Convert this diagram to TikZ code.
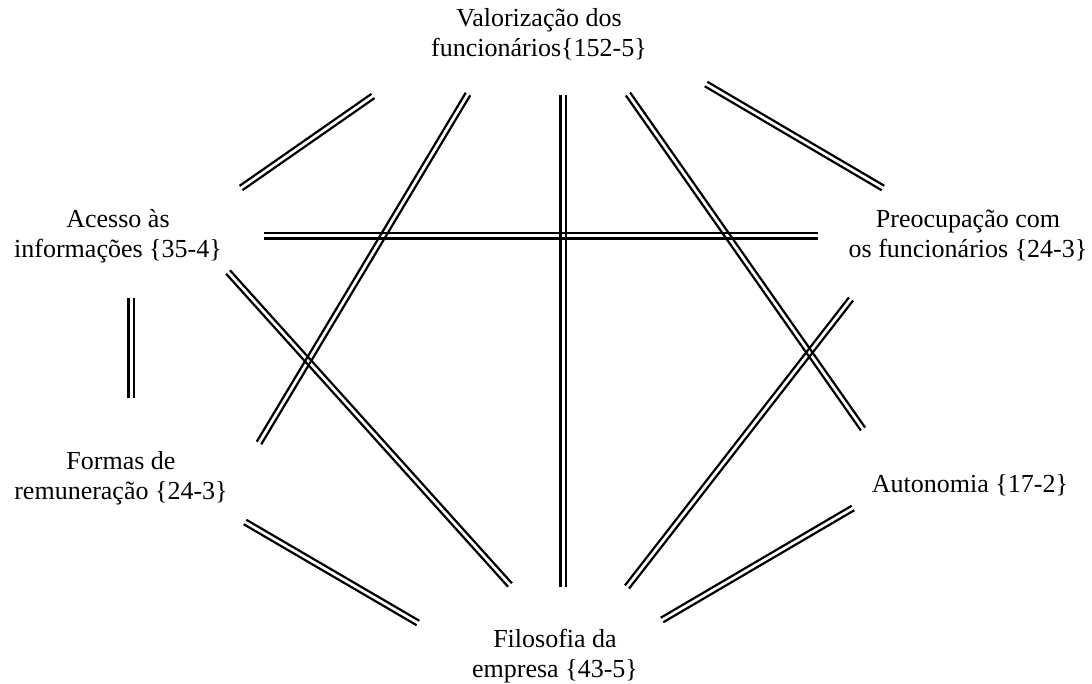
\documentclass[tikz,border=0pt]{standalone}
\usepackage{fontspec}
\setmainfont{Liberation Serif}
\usetikzlibrary{calc}
\tikzset{
  lbl/.style={font=\fontsize{26}{30}\selectfont, align=center, inner sep=0pt, anchor=center},
  rail/.style={line width=2.2pt, line cap=butt, black}
}
\newcommand{\dbl}[2]{%
  \draw[rail] ($(#1)!2.6pt!90:(#2)$) -- ($(#2)!2.6pt!-90:(#1)$);
  \draw[rail] ($(#1)!2.6pt!-90:(#2)$) -- ($(#2)!2.6pt!90:(#1)$);}
\begin{document}
\begin{tikzpicture}[x=1pt,y=-1pt]
\useasboundingbox (0,0) rectangle (1092,684);
% labels
\node[lbl] (val) at (539,34) {Valorização dos\\funcionários\{152-5\}};
\node[lbl] (ace) at (118,236) {Acesso às\\informações \{35-4\}};
\node[lbl] (pre) at (968,235) {Preocupação com\\os funcionários \{24-3\}};
\node[lbl] (for) at (121,478) {Formas de\\remuneração \{24-3\}};
\node[lbl, anchor=base] (aut) at (970,492) {Autonomia \{17-2\}};
\node[lbl] (fil) at (555,656) {Filosofia da\\empresa \{43-5\}};
% connector end points
\coordinate (a1) at (241,188); \coordinate (b1) at (373,96);
\coordinate (a2) at (468,94);  \coordinate (b2) at (259,443);
\coordinate (a3) at (563,95);  \coordinate (b3) at (563,587);
\coordinate (a4) at (628,94);  \coordinate (b4) at (863,429);
\coordinate (a5) at (706,84);  \coordinate (b5) at (883,188);
\coordinate (a6) at (264,236); \coordinate (b6) at (818,236);
\coordinate (a7) at (131,298); \coordinate (b7) at (131,398);
\coordinate (a8) at (228,272); \coordinate (b8) at (510,585);
\coordinate (a9) at (851,299); \coordinate (b9) at (627,587);
\coordinate (a10) at (853,508); \coordinate (b10) at (662,620);
\coordinate (a11) at (245,522); \coordinate (b11) at (418,623);
\dbl{a1}{b1}
\dbl{a2}{b2}
\dbl{a3}{b3}
\dbl{a4}{b4}
\dbl{a5}{b5}
\dbl{a6}{b6}
\dbl{a7}{b7}
\dbl{a8}{b8}
\dbl{a9}{b9}
\dbl{a10}{b10}
\dbl{a11}{b11}
\end{tikzpicture}
\end{document}
